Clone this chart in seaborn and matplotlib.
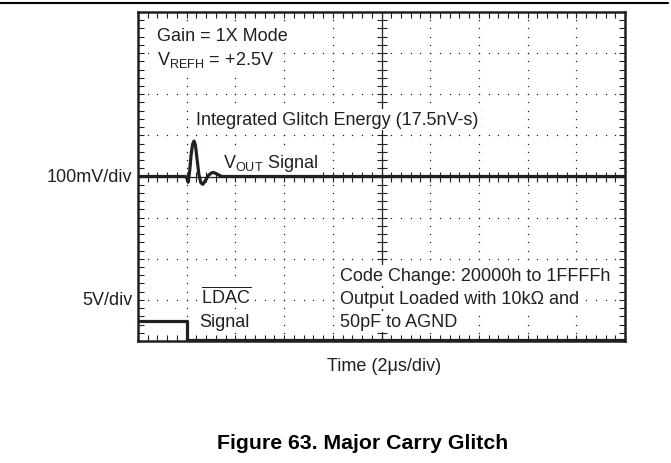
import numpy as np
import pandas as pd
import matplotlib
matplotlib.use("Agg")
import matplotlib.pyplot as plt
import seaborn as sns

# Screen is 10 horizontal x 8 vertical divisions; values are in divisions
vout_t = [0.0, 0.98, 1.01, 1.03, 1.06, 1.09, 1.12, 1.15, 1.18, 1.21, 1.25,
          1.29, 1.33, 1.38, 1.44, 1.50, 1.55, 1.62, 1.72, 10.0]
vout_v = [0.0, 0.0, -0.06, -0.14, 0.12, 0.52, 0.78, 0.86, 0.76, 0.45, 0.05,
          -0.15, -0.19, -0.11, 0.02, 0.08, 0.10, 0.06, 0.0, 0.0]
ldac_t = [0.0, 1.0, 1.0, 10.0]
ldac_v = [-3.52, -3.52, -3.97, -3.97]

channel_labels = ["100mV/div", "5V/div"]
channel_levels = [0.0, -3.0]
note_lines = ["Code Change: 20000h to 1FFFFh",
              "Output Loaded with 10k\u03a9 and",
              "50pF to AGND"]

sns.set_theme(style="white")
plt.rcParams["font.family"] = ["Liberation Sans", "DejaVu Sans"]
plt.rcParams["mathtext.fontset"] = "custom"
plt.rcParams["mathtext.rm"] = "Liberation Sans"
plt.rcParams["mathtext.it"] = "Liberation Sans"

ink = "#231f20"
fs = 13

fig = plt.figure(figsize=(6.71, 4.64), dpi=100)
ax = fig.add_axes([138 / 671, 1 - 342 / 464, 487 / 671, 329 / 464])
ax.set_xlim(0, 10)
ax.set_ylim(-4, 4)

# graticule: dotted division lines
minor_x = np.round(np.arange(0, 10.001, 0.2), 3)
minor_y = np.round(np.arange(-4, 4.001, 0.2), 3)
for gx in range(1, 10):
    if gx == 5:
        continue
    ax.scatter(np.full(minor_y.size, gx), minor_y, s=1.0, color=ink,
               linewidths=0, zorder=1)
for gy in range(-3, 4):
    if gy == 0:
        continue
    ax.scatter(minor_x, np.full(minor_x.size, gy), s=1.0, color=ink,
               linewidths=0, zorder=1)

# centre cross with minor ticks
ax.axvline(5, color=ink, lw=0.9, zorder=2)
ax.axhline(0, color=ink, lw=0.9, zorder=2)
ax.plot(np.full(minor_y.size, 5), minor_y, ls="none", marker="_",
        ms=7, mew=0.8, color=ink, zorder=2)
ax.plot(minor_x, np.zeros(minor_x.size), ls="none", marker="|",
        ms=7, mew=0.8, color=ink, zorder=2)

# traces
vout = pd.DataFrame({"t": vout_t, "v": vout_v})
ldac = pd.DataFrame({"t": ldac_t, "v": ldac_v})
sns.lineplot(data=vout, x="t", y="v", sort=False, estimator=None,
             color=ink, lw=2.3, ax=ax, zorder=4)
sns.lineplot(data=ldac, x="t", y="v", sort=False, estimator=None,
             color=ink, lw=2.3, ax=ax, zorder=4)

# frame and edge ticks
for sp in ax.spines.values():
    sp.set_visible(True)
    sp.set_color(ink)
    sp.set_linewidth(1.8)
ax.set_xticks(np.arange(0, 10.01, 1))
ax.set_yticks(np.arange(-4, 4.01, 1))
ax.set_xticks(minor_x, minor=True)
ax.set_yticks(minor_y, minor=True)
ax.tick_params(which="both", direction="in", top=True, bottom=True,
               left=True, right=True, length=4.5, width=0.8, color=ink,
               labelbottom=False, labelleft=False)
ax.set_xlabel("")
ax.set_ylabel("")

# annotations sit on white patches that mask the graticule
box = dict(facecolor="white", edgecolor="none", pad=1.5)
txt = dict(fontsize=fs, color=ink, va="baseline", bbox=box, zorder=3)
ax.text(0.39, 3.33, "Gain = 1X Mode", **txt)
ax.text(0.39, 2.74, r"V$_{\mathregular{REFH}}$ = +2.5V", **txt)
ax.text(1.19, 1.28, "Integrated Glitch Energy (17.5nV-s)", **txt)
ax.text(1.75, 0.23, r"V$_{\mathregular{OUT}}$ Signal", **txt)
ax.text(1.29, -3.05, r"$\overline{\mathregular{LDAC}}$", **txt)
ax.text(1.25, -3.64, "Signal", **txt)
for i, line in enumerate(note_lines):
    ax.text(4.15, -2.52 - 0.56 * i, line, **txt)

for lab, lev in zip(channel_labels, channel_levels):
    ax.text(-0.12, lev, lab, fontsize=fs, color=ink, ha="right",
            va="center")

fig.text(384 / 671, 1 - 367 / 464, "Time (2\u03bcs/div)", fontsize=fs,
         color=ink, ha="center", va="center")
fig.text(363 / 671, 1 - 444 / 464, "Figure 63. Major Carry Glitch",
         fontsize=15.3, fontweight="bold", color="black", ha="center",
         va="center")

# page header rule
fig.add_artist(plt.Line2D([0, 668 / 671], [1 - 4 / 464, 1 - 4 / 464],
                          color="black", lw=1.5))

fig.savefig("out.png", dpi=100)
